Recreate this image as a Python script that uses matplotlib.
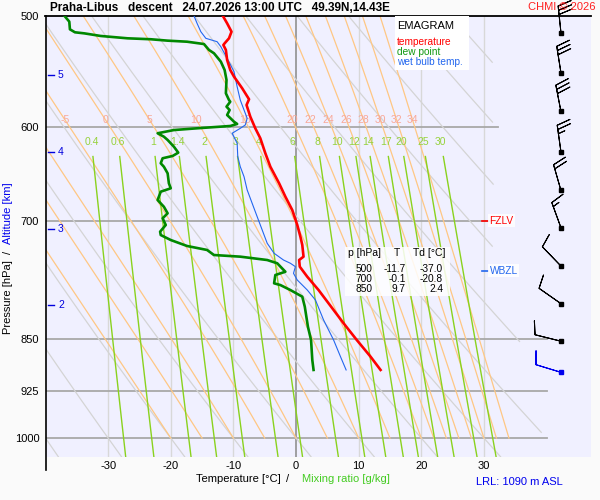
import numpy as np
import matplotlib
matplotlib.use("Agg")
import matplotlib.pyplot as plt
from matplotlib.patches import Rectangle

plt.rcParams['font.family'] = ['Liberation Sans', 'DejaVu Sans']

# sounding profiles (hPa, degC)
temp_p = [500, 506.3, 513.3, 518.9, 523.2, 524.6, 528.9, 537.7, 546.6, 552.6, 563.2, 573.5,
          578.9, 590.1, 601.5, 611.4, 626.6, 640.6, 658.3, 672.9, 687.8, 704.9, 718.6, 728.4,
          742.5, 746.6, 754.8, 767.4, 784.3, 810.4, 828.3, 851.3, 874.9, 894.2]
temp_t = [-11.7, -11.0, -10.3, -10.7, -11.4, -11.6, -11.2, -11.0, -10.5, -9.9, -8.6, -7.5,
          -7.9, -7.3, -6.5, -5.7, -4.9, -4.1, -2.7, -1.7, -0.6, 0.2, 0.7, 1.0,
          1.2, 0.5, 0.6, 1.8, 3.6, 6.0, 7.6, 9.7, 11.9, 13.5]

dew_p = [500, 504.9, 511.3, 513.8, 514.7, 516.9, 518.9, 519.7, 520.9, 521.8, 523.8, 528.9,
         531.8, 539.2, 546.6, 555.6, 567.9, 574.2, 575.8, 580.5, 583.7, 588.5, 595.0, 597.2,
         599.2, 601.2, 603.2, 606.4, 609.8, 613.1, 619.9, 626.0, 629.4, 631.8, 637.0, 640.6,
         647.6, 658.3, 663.7, 667.4, 676.6, 684.1, 691.5, 697.2, 704.9, 712.7, 716.6, 722.5,
         729.6, 734.4, 740.5, 742.5, 746.6, 750.6, 761.1, 765.2, 775.7, 777.9, 784.3, 792.9,
         806.0, 832.9, 851.3, 879.7, 894.2]
dew_t = [-37.0, -36.2, -36.1, -35.3, -33.8, -31.2, -26.9, -23.2, -20.5, -17.4, -14.7, -13.9,
         -13.1, -12.0, -11.4, -11.1, -11.2, -10.7, -10.5, -11.1, -10.6, -11.0, -9.9, -9.4,
         -10.5, -15.2, -19.5, -22.1, -21.1, -20.5, -19.5, -18.8, -19.7, -21.3, -21.6, -21.1,
         -20.5, -20.3, -20.0, -21.6, -22.1, -21.1, -20.5, -21.3, -20.8, -21.7, -21.6, -20.0,
         -17.4, -14.2, -13.1, -8.9, -4.6, -3.0, -1.7, -3.3, -3.5, -2.5, -0.9, 1.0,
         1.4, 1.9, 2.4, 2.6, 2.8]

wb_p = [500, 506.3, 513.3, 518.9, 521.8, 526.1, 536.2, 548.1, 561.8, 574.2, 591.7, 598.2,
        601.5, 606.4, 616.4, 630.1, 640.6, 651.2, 665.5, 680.3, 695.4, 710.7, 726.4, 738.4,
        746.6, 750.6, 754.8, 763.1, 771.5, 784.3, 797.2, 823.8, 851.3, 874.9, 894.2]
wb_t = [-16.3, -15.8, -15.2, -14.4, -12.6, -12.0, -11.0, -9.9, -9.4, -8.9, -7.8, -8.1,
        -8.9, -10.2, -9.4, -9.3, -8.9, -8.3, -7.8, -7.0, -6.2, -5.4, -4.6, -3.5,
        -2.0, -0.9, -0.1, -0.4, 0.2, 1.8, 3.1, 4.4, 6.0, 7.1, 8.0]

# winds
wind_p = [514, 549, 585, 625, 666, 708, 754, 802, 853, 897]
wind_dir = [354, 351, 349, 352, 344, 340, 316, 305, 284, 287]
wind_kt = [30, 30, 30, 25, 20, 15, 10, 10, 10, 10]

# altitude marks
alt_km = [2, 3, 4, 5]
alt_p = [804, 709, 625, 551]

# table
tab_p = [500, 700, 850]
tab_t = [-11.7, -0.1, 9.7]
tab_td = [-37.0, -20.8, 2.4]

# diagram lines
moist_theta = [-20, -15, -10, -5, 0, 5, 10, 15, 20, 22, 24, 26, 28, 30, 32, 34]
moist_lab = [-5, 0, 5, 10, 15, 20, 22, 24, 26, 28, 30, 32, 34]
mixr = [0.4, 0.6, 1, 1.4, 2, 3, 4, 6, 8, 10, 12, 14, 17, 20, 25, 30]
mixr_lab = ['0.4', '0.6', '1', '1.4', '2', '3', '4', '6', '8', '10', '12', '14', '17', '20', '25', '30']
dry_theta = list(range(-40, 120, 10))
isobars = [600, 700, 850, 925, 1000]
isobar_end = [32.2, 32.2, 40, 40, 40]
isotherms = [-30, -20, -10, 10, 20, 30]

P_BOT, P_TOP = 1031, 500


def px(x, y):
    return x / 600, 1 - y / 500


def dewpoint_from_w(w, p):
    e = w * p / (622 + w)
    a = np.log(e / 6.112)
    return 243.5 * a / (17.67 - a)


def moist_adiabats(t0, p):
    T = np.array(t0, float) + 273.15
    out = [T.copy()]

    def f(T, pp):
        es = 6.112 * np.exp(17.67 * (T - 273.15) / (T - 29.65))
        rs = 0.622 * es / (pp - es)
        return (287.04 * T + 2.501e6 * rs) / (pp * (1005.7 + 2.501e6 ** 2 * rs * 0.622 / (287.04 * T ** 2)))

    for i in range(1, len(p)):
        dp = p[i] - p[i - 1]
        k1 = f(T, p[i - 1])
        k2 = f(T + dp * k1, p[i])
        T = T + dp * (k1 + k2) / 2
        out.append(T.copy())
    return np.array(out) - 273.15


fig = plt.figure(figsize=(6, 5), dpi=100, facecolor='#fafafa')
x0, y0 = px(45.5, 456.7)
x1, y1 = px(591, 15.7)
ax = fig.add_axes([x0, y0, x1 - x0, y1 - y0])
ax.set_facecolor('#f0f0ff')
ax.set_yscale('log')
ax.set_ylim(P_BOT, P_TOP)
ax.set_xlim(-40, 47.1)
for s in ['left', 'right', 'bottom']:
    ax.spines[s].set_visible(False)
ax.spines['top'].set_linewidth(1.3)

# isotherms and isobars
for t in isotherms:
    ax.plot([t, t], [P_BOT, P_TOP], color='#d8d8d8', lw=1, zorder=1)
ax.plot([0, 0], [P_BOT, P_TOP], color='#909090', lw=1.2, zorder=1)
for p, te in zip(isobars, isobar_end):
    ax.plot([-40, te], [p, p], color='#a8a8a8', lw=1.3, zorder=1)

# dry adiabats, cut on the right
pp = np.geomspace(P_BOT, P_TOP, 200)
tmax = np.interp(np.log(pp[::-1]), np.log([500, 730, 847, 1000, 1100]), [31.5, 31.5, 35.7, 39.4, 40])[::-1]
for th in dry_theta:
    t = (th + 273.15) * (pp / 1000) ** 0.2857 - 273.15
    t = np.where(t > tmax, np.nan, t)
    ax.plot(t, pp, color='#d4d4d4', lw=0.9, zorder=2)

# moist adiabats
pm = np.geomspace(1000, 500, 300)
tm = moist_adiabats(moist_theta, pm)
for j in range(len(moist_theta)):
    ax.plot(tm[:, j], pm, color='#ffc784', lw=0.9, zorder=2)
for lab in moist_lab:
    j = moist_theta.index(lab)
    tl = np.interp(np.log(593), np.log(pm[::-1]), tm[::-1, j])
    ax.text(tl, 593, str(lab), color='#f8a898', fontsize=7.5, ha='center', va='center', zorder=3)

# mixing ratio lines
pw = np.geomspace(P_BOT, 630, 100)
for w, lab in zip(mixr, mixr_lab):
    ax.plot(dewpoint_from_w(w, pw), pw, color='#8ad21e', lw=1, zorder=2)
    ax.text(dewpoint_from_w(w, 615), 615, lab, color='#96d23c', fontsize=7.5,
            ha='center', va='center', zorder=3)

# profiles
ax.plot(wb_t, wb_p, color='#2266ee', lw=0.8, zorder=5)
ax.plot(dew_t, dew_p, color='#008800', lw=1.9, zorder=5)
ax.plot(temp_t, temp_p, color='#ff0000', lw=1.9, zorder=6)

# winds
d = np.radians(wind_dir)
u = -np.array(wind_kt) * np.sin(d)
v = -np.array(wind_kt) * np.cos(d)
wx = np.full(len(wind_p), 42.3)
bsz = dict(spacing=0.16, height=0.5, width=0.3)
ax.barbs(wx[:-1], wind_p[:-1], u[:-1], v[:-1], length=6.2, lw=0.75, color='k', sizes=bsz,
         zorder=7, clip_on=False)
ax.barbs(wx[-1:], wind_p[-1:], u[-1:], v[-1:], length=6.2, lw=0.75, color='#0000ee', sizes=bsz,
         zorder=7, clip_on=False)
ax.plot(wx[:-1], wind_p[:-1], 's', ms=2.8, color='k', zorder=8)
ax.plot(wx[-1:], wind_p[-1:], 's', ms=2.8, color='#0000ee', zorder=8)

# altitude marks
for km, p in zip(alt_km, alt_p):
    ax.plot([-39.6, -38.6], [p, p], color='#0000dd', lw=1, zorder=4)
    ax.text(-38.0, p, str(km), color='#0000dd', fontsize=7.5, ha='left', va='center', zorder=4)

# FZLV / WBZL
for name, p, c in [('FZLV', 700, '#ff0000'), ('WBZL', 760, '#2266ee')]:
    ax.plot([29.7, 30.7], [p, p], color=c, lw=1.2, zorder=8)
    ax.text(30.9, p, name, color=c, fontsize=7.3, ha='left', va='center', zorder=8,
            bbox=dict(facecolor='white', edgecolor='none', pad=1.2, alpha=0.85))

# ticks
ax.set_yticks([500, 600, 700, 850, 925, 1000])
ax.set_yticklabels(['500', '600', '700', '850', '925', '1000'])
ax.yaxis.set_minor_locator(matplotlib.ticker.NullLocator())
ax.set_xticks([-30, -20, -10, 0, 10, 20, 30])
ax.set_xticklabels(['-30', '-20', '-10', '0', '10', '20', '30'])
ax.tick_params(axis='both', length=0, labelsize=8)
ax.tick_params(axis='y', pad=4.5)
ax.tick_params(axis='x', pad=3)

# left spine that runs below the plot
fig.add_artist(plt.Line2D([45.5 / 600] * 2, [1 - 15.7 / 500, 1 - 470 / 500], color='k', lw=1.2))

# legend box
lx, ly = px(395, 70)
fig.add_artist(Rectangle((lx, ly), 74 / 600, 54.3 / 500, transform=fig.transFigure,
                         facecolor='white', edgecolor='none', zorder=9))
fig.text(*px(397, 25.7), 'EMAGRAM', fontsize=8, va='center', zorder=10)
fig.text(*px(397, 42), 'temperature', fontsize=7.3, color='#ff0000', va='center', zorder=10)
fig.text(*px(397, 51.7), 'dew point', fontsize=7.3, color='#119911', va='center', zorder=10)
fig.text(*px(397, 61.7), 'wet bulb temp.', fontsize=7.3, color='#2266ee', va='center', zorder=10)

# table
tx, ty = px(345, 296)
fig.add_artist(Rectangle((tx, ty), 105 / 600, 49 / 500, transform=fig.transFigure,
                         facecolor='white', edgecolor='none', alpha=0.85, zorder=9))
fig.text(*px(348, 253), 'p [hPa]', fontsize=7.5, va='center', zorder=10)
fig.text(*px(397, 253), 'T', fontsize=7.5, va='center', ha='center', zorder=10)
fig.text(*px(413, 253), 'Td [°C]', fontsize=7.5, va='center', zorder=10)
for i, (p, t, td) in enumerate(zip(tab_p, tab_t, tab_td)):
    yy = 269 + i * 10
    fig.text(*px(372, yy), str(p), fontsize=7.3, ha='right', va='center', zorder=10)
    fig.text(*px(406, yy), f'{t:.1f}', fontsize=7.3, ha='right', va='center', zorder=10)
    fig.text(*px(443, yy), f'{td:.1f}', fontsize=7.3, ha='right', va='center', zorder=10)

# titles and labels
fig.text(*px(50.5, 8), 'Praha-Libus   descent   24.07.2026 13:00 UTC   49.39N,14.43E',
         fontsize=8.5, fontweight='bold', va='center')
fig.text(*px(596, 7), 'CHMI © 2026', fontsize=8, color='#ff2020', ha='right', va='center')
fig.text(*px(8.3, 297.5), 'Pressure [hPa]', fontsize=8, rotation=90, ha='center', va='center')
fig.text(*px(8.3, 252.5), '/', fontsize=8, rotation=90, ha='center', va='center')
fig.text(*px(8.3, 213), 'Altitude [km]', fontsize=8, rotation=90, ha='center', va='center', color='#0000ee')
fig.text(*px(281, 479), 'Temperature [°C]', fontsize=8, ha='right', va='center')
fig.text(*px(288, 479), '/', fontsize=8, ha='center', va='center')
fig.text(*px(302, 479), 'Mixing ratio [g/kg]', fontsize=8, ha='left', va='center', color='#44cc22')
fig.text(*px(476.5, 482), 'LRL: 1090 m ASL', fontsize=8, ha='left', va='center', color='#0000ee')

fig.savefig('out.png', dpi=100, facecolor=fig.get_facecolor())
